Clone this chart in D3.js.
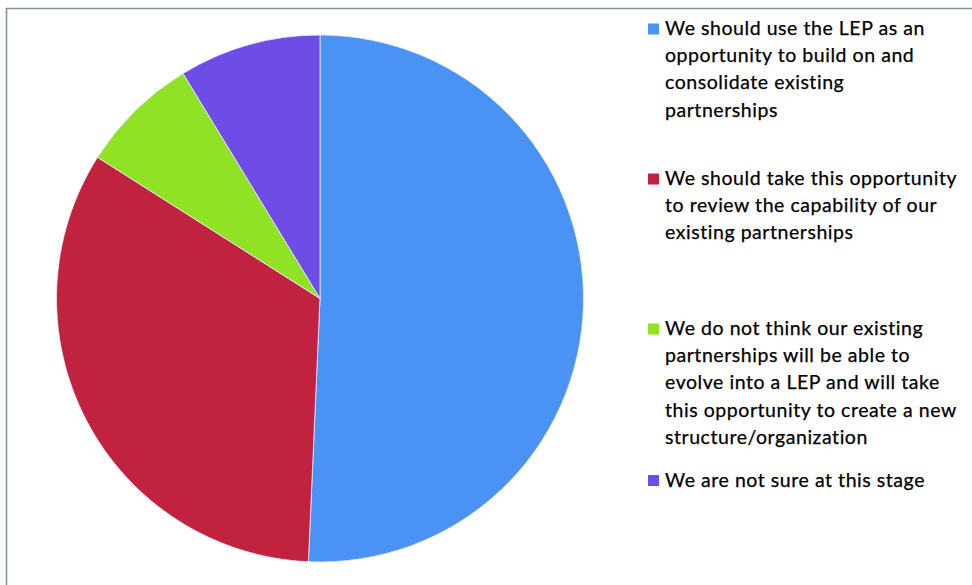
<!DOCTYPE html>
<html>
<head>
<meta charset="utf-8">
<script src="https://cdn.jsdelivr.net/npm/d3@7/dist/d3.min.js"></script>
<style>
  html, body { margin: 0; padding: 0; background: #fff; }
  svg { display: block; }
  .legend text { font-family: Lato, "Open Sans", sans-serif; font-size: 19.5px; letter-spacing: 0.55px; fill: #000; stroke: #000; stroke-width: 0.25px; }
</style>
</head>
<body>
<svg id="chart" width="972" height="585"></svg>
<script>
// Survey responses (share of respondents, %)
const categories = [
  ["We should use the LEP as an", "opportunity to build on and", "consolidate existing", "partnerships"],
  ["We should take this opportunity", "to review the capability of our", "existing partnerships"],
  ["We do not think our existing", "partnerships will be able to", "evolve into a LEP and will take", "this opportunity to create a new", "structure/organization"],
  ["We are not sure at this stage"]
];
const values = [50.7, 33.3, 7.3, 8.7];
const colors = ["#4a92f3", "#c0223f", "#8fe324", "#6e4de6"];

const svg = d3.select("#chart");

// frame
svg.append("path")
  .attr("d", "M6.5,585 V8.5 H972")
  .attr("fill", "none")
  .attr("stroke", "#7f9797")
  .attr("stroke-width", 1.6);

// pie
const cx = 320, cy = 298.5, r = 263.5;
const pie = d3.pie().sort(null).value(d => d)(values);
const arc = d3.arc().innerRadius(0).outerRadius(r);

svg.append("g")
  .attr("transform", `translate(${cx},${cy})`)
  .selectAll("path")
  .data(pie)
  .join("path")
  .attr("d", arc)
  .attr("fill", (d, i) => colors[i])
  .attr("stroke", "#e8eefc")
  .attr("stroke-width", 0.8);

// legend
const legendTop = [28.5, 178.5, 328.5, 480];
const lineH = 27.2;
const legend = svg.append("g").attr("class", "legend");
categories.forEach((lines, i) => {
  const g = legend.append("g");
  g.append("rect")
    .attr("x", 648).attr("y", legendTop[i] - 5)
    .attr("width", 11).attr("height", 11)
    .attr("fill", colors[i]);
  lines.forEach((t, j) => {
    g.append("text")
      .attr("x", 665)
      .attr("y", legendTop[i] + j * lineH + 6.5)
      .text(t);
  });
});
</script>
</body>
</html>
